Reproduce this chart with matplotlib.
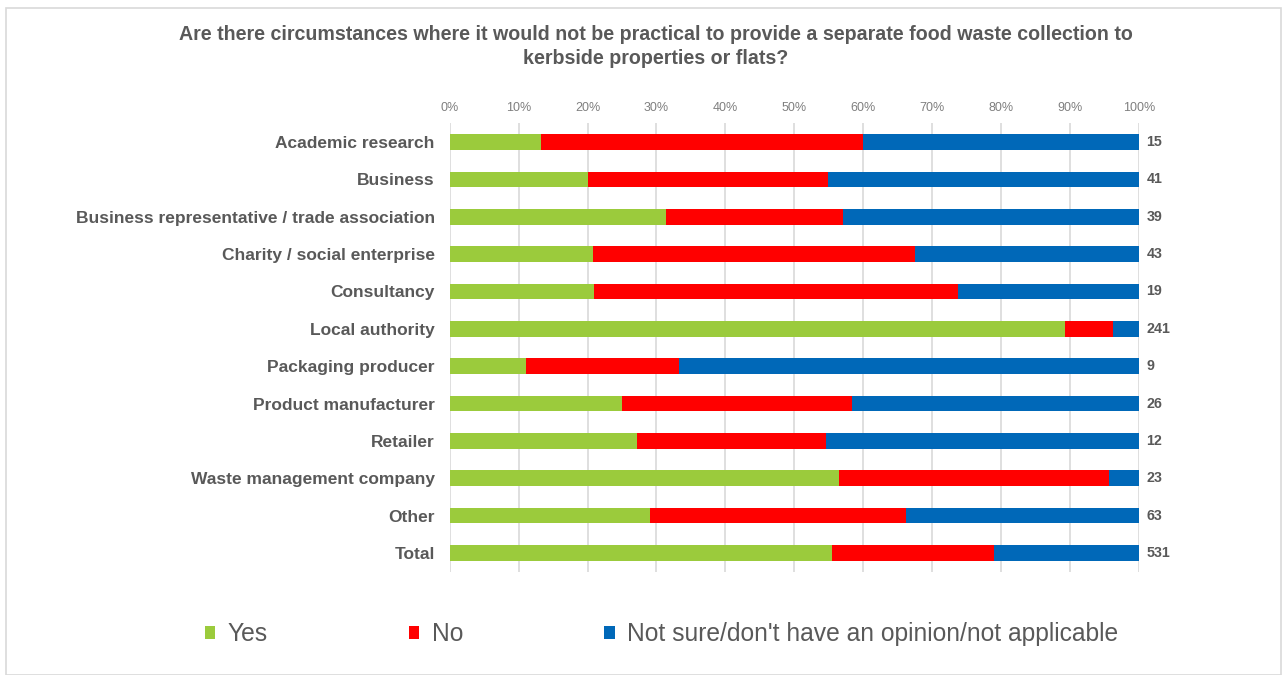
import matplotlib
matplotlib.use("Agg")
import matplotlib.pyplot as plt
from matplotlib.patches import Rectangle

plt.rcParams['font.family'] = ['Liberation Sans', 'DejaVu Sans']

categories = [
    "Academic research",
    "Business",
    "Business representative / trade association",
    "Charity / social enterprise",
    "Consultancy",
    "Local authority",
    "Packaging producer",
    "Product manufacturer",
    "Retailer",
    "Waste management company",
    "Other",
    "Total",
]
yes = [13.2, 20.0, 31.4, 20.8, 21.0, 89.2, 11.0, 25.0, 27.2, 56.5, 29.0, 55.4]
no = [46.7, 34.9, 25.7, 46.7, 52.7, 7.1, 22.3, 33.3, 27.4, 39.2, 37.2, 23.5]
not_sure = [40.1, 45.1, 42.9, 32.5, 26.3, 3.7, 66.7, 41.7, 45.4, 4.3, 33.8, 21.1]
respondents = [15, 41, 39, 43, 19, 241, 9, 26, 12, 23, 63, 531]
series_names = ["Yes", "No", "Not sure/don't have an opinion/not applicable"]
tick_values = [0, 10, 20, 30, 40, 50, 60, 70, 80, 90, 100]

colors = ["#9BCB3C", "#FF0000", "#0068B8"]
text_dark = "#595959"

W, H = 1287, 675
fig = plt.figure(figsize=(W / 100, H / 100), dpi=100)

# light outer frame
fig.patches.append(Rectangle((6 / W, 0), (1281 - 6) / W, 1 - 8 / H,
                             transform=fig.transFigure, fill=False,
                             edgecolor="#D9D9D9", linewidth=1.2))

ax = fig.add_axes([449.7 / W, 1 - 571.7 / H, (1139 - 449.7) / W, (571.7 - 123.3) / H])

y = list(range(len(categories)))
left = [0] * len(categories)
handles = []
for vals, col, name in zip([yes, no, not_sure], colors, series_names):
    b = ax.barh(y, vals, left=left, height=0.42, color=col, label=name, zorder=3)
    handles.append(b)
    left = [l + v for l, v in zip(left, vals)]

ax.set_xlim(0, 100)
ax.set_ylim(len(categories) - 0.5, -0.5)
ax.set_yticks(y)
ax.set_yticklabels(categories, fontsize=12.5, fontweight="bold", color=text_dark)
ax.tick_params(axis="y", length=0, pad=10.7)
ax.xaxis.tick_top()
ax.set_xticks(tick_values)
ax.set_xticklabels([f"{t}%" for t in tick_values], fontsize=9, color="#7F7F7F")
ax.tick_params(axis="x", length=0, pad=6.5)
ax.grid(axis="x", color="#D9D9D9", linewidth=1.2, zorder=0)
for s in ax.spines.values():
    s.set_visible(False)

for yi, total, n in zip(y, left, respondents):
    ax.text(total + 1.1, yi, str(n), va="center", ha="left", fontsize=10.3,
            fontweight="bold", color=text_dark)

fig.text(656 / W, 1 - 35 / H,
         "Are there circumstances where it would not be practical to provide a separate food waste collection to",
         ha="center", va="center", fontsize=14.1, fontweight="bold", color=text_dark)
fig.text(656 / W, 1 - 59 / H, "kerbside properties or flats?",
         ha="center", va="center", fontsize=14.1, fontweight="bold", color=text_dark)

leg = fig.legend(handles=handles, labels=series_names, loc="center left",
                 bbox_to_anchor=(205 / W, 1 - 634 / H), ncol=3, frameon=False,
                 fontsize=17.7, handlelength=0.42, handleheight=0.42,
                 handletextpad=0.5, columnspacing=5.75, borderaxespad=0,
                 borderpad=0)
for t in leg.get_texts():
    t.set_color(text_dark)

fig.savefig("out.png", dpi=100, facecolor="white")
